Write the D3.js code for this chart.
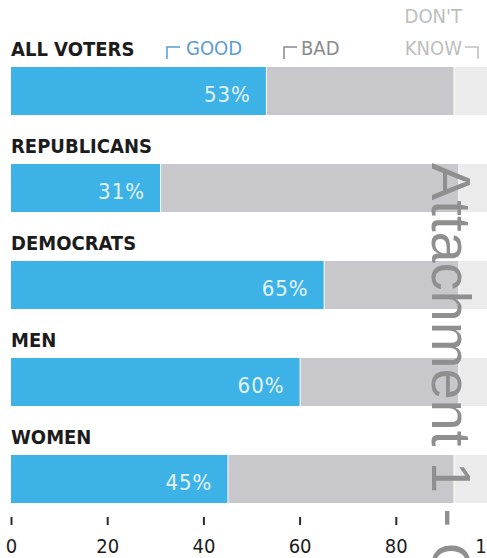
<!DOCTYPE html>
<html>
<head>
<meta charset="utf-8">
<script src="https://cdn.jsdelivr.net/npm/d3@7"></script>
<style>
  body { margin: 0; background: #fff; }
  svg { display: block; }
</style>
</head>
<body>
<svg id="chart"></svg>
<script>
// chart data
var groups = ["ALL VOTERS", "REPUBLICANS", "DEMOCRATS", "MEN", "WOMEN"];
var good = [53, 31, 65, 60, 45];
var bad = [39, 62, 28, 33, 47];
var dontKnow = [8, 7, 7, 7, 8];
var tickValues = [0, 20, 40, 60, 80, 100];

var width = 487, height = 558;
var colors = { good: "#3cb2e6", bad: "#c8c8cc", dk: "#ebebec" };
var condensed = "'DejaVu Sans Condensed', 'DejaVu Sans', sans-serif";

var svg = d3.select("svg#chart")
    .attr("width", width)
    .attr("height", height);

var x = d3.scaleLinear()
    .domain([0, 100])
    .range([11, 492]);

var y = d3.scaleBand()
    .domain(groups)
    .range([67, 503])
    .paddingInner(0.505)
    .paddingOuter(0);

// stack the three answers per group
var rows = groups.map(function(g, i) {
  return { group: g, good: good[i], bad: bad[i], dk: dontKnow[i] };
});
var stack = d3.stack().keys(["good", "bad", "dk"])(rows);

svg.append("g")
  .selectAll("g")
  .data(stack)
  .join("g")
    .attr("fill", function(d) { return colors[d.key]; })
  .selectAll("rect")
  .data(function(d) { return d; })
  .join("rect")
    .attr("x", function(d) { return x(d[0]) + (d[0] > 0 ? 1 : 0); })
    .attr("y", function(d) { return y(d.data.group); })
    .attr("width", function(d) { return x(d[1]) - x(d[0]) - (d[0] > 0 ? 1 : 0); })
    .attr("height", y.bandwidth());

// group names above each bar
svg.append("g")
  .selectAll("text")
  .data(groups)
  .join("text")
    .attr("x", x(0))
    .attr("y", function(d) { return y(d) - 11; })
    .attr("font-family", condensed)
    .attr("font-weight", "bold")
    .attr("font-size", 20)
    .attr("fill", "#1c1c1c")
    .text(function(d) { return d; });

// value labels inside the blue segment
svg.append("g")
  .selectAll("text")
  .data(rows)
  .join("text")
    .attr("x", function(d) { return x(d.good) - 15; })
    .attr("y", function(d) { return y(d.group) + 35; })
    .attr("text-anchor", "end")
    .attr("font-family", condensed)
    .attr("font-size", 22)
    .attr("letter-spacing", 1)
    .attr("fill", "#e4f3fb")
    .text(function(d) { return d.good + "%"; });

// legend on the first row
var legend = svg.append("g")
    .attr("font-family", condensed)
    .attr("font-size", 20);

legend.append("path")
    .attr("d", "M167,59V47H180")
    .attr("fill", "none").attr("stroke", "#5b9ccf").attr("stroke-width", 1.5);
legend.append("text")
    .attr("x", 186).attr("y", 55)
    .attr("fill", "#5b9ccf")
    .text("GOOD");

legend.append("path")
    .attr("d", "M284,59V47H297")
    .attr("fill", "none").attr("stroke", "#8a8a8a").attr("stroke-width", 1.5);
legend.append("text")
    .attr("x", 301).attr("y", 55)
    .attr("fill", "#8a8a8a")
    .text("BAD");

legend.append("text")
    .attr("x", 462).attr("y", 23)
    .attr("text-anchor", "end")
    .attr("fill", "#bdbdbd")
    .text("DON'T");
legend.append("text")
    .attr("x", 462).attr("y", 55)
    .attr("text-anchor", "end")
    .attr("fill", "#bdbdbd")
    .text("KNOW");
legend.append("path")
    .attr("d", "M465,47H478V59")
    .attr("fill", "none").attr("stroke", "#bdbdbd").attr("stroke-width", 1.5);

// x axis
var xAxis = d3.axisBottom(x)
    .tickValues(tickValues)
    .tickSize(8)
    .tickFormat(d3.format("d"));

var gx = svg.append("g")
    .attr("transform", "translate(0,517)")
    .call(xAxis);

gx.select(".domain").remove();
gx.selectAll(".tick line")
    .attr("stroke", "#2a2a2a")
    .attr("stroke-width", 2);
gx.selectAll(".tick text")
    .attr("y", 36)
    .attr("dy", 0)
    .attr("font-family", condensed)
    .attr("font-size", 20)
    .attr("fill", "#1c1c1c");

// watermark stamped over the scan
svg.append("text")
    .attr("transform", "translate(432,163) rotate(90)")
    .attr("font-family", "'Liberation Sans', Arial, sans-serif")
    .attr("font-size", 56)
    .attr("fill", "#8f8f8f")
    .text("Attachment 1 - C");
</script>
</body>
</html>
